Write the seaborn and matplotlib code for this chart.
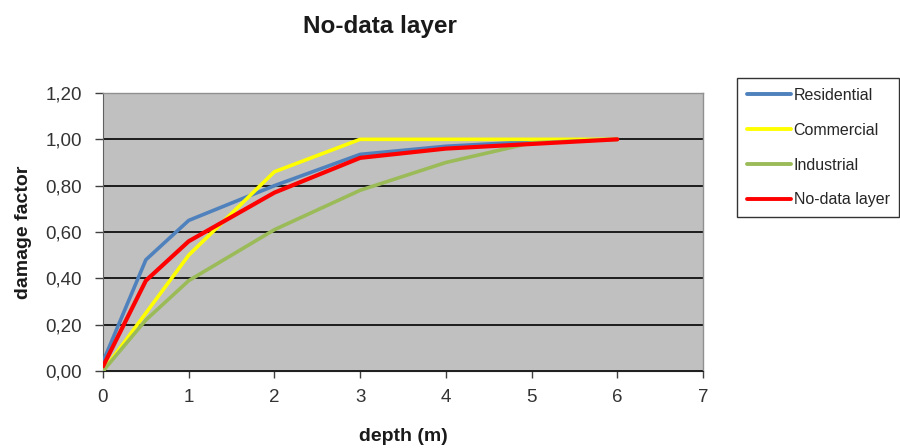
import matplotlib
matplotlib.use("Agg")
import matplotlib.pyplot as plt
import seaborn as sns
import pandas as pd
from matplotlib.ticker import FuncFormatter
from matplotlib.lines import Line2D

depth = [0, 0.5, 1, 2, 3, 4, 5, 6]
residential = [0.04, 0.48, 0.65, 0.80, 0.935, 0.97, 0.99, 1.00]
commercial = [0.00, 0.25, 0.50, 0.86, 1.00, 1.00, 1.00, 1.00]
industrial = [0.00, 0.22, 0.39, 0.61, 0.78, 0.90, 0.985, 1.00]
nodata = [0.02, 0.39, 0.56, 0.77, 0.92, 0.96, 0.98, 1.00]
series_names = ["Residential", "Commercial", "Industrial", "No-data layer"]
colors = ["#4F81BD", "#FFFF00", "#9BBB59", "#FF0000"]
y_ticks = [0, 0.2, 0.4, 0.6, 0.8, 1.0, 1.2]
x_ticks = [0, 1, 2, 3, 4, 5, 6, 7]

rows = []
for name, vals in zip(series_names, [residential, commercial, industrial, nodata]):
    for d, v in zip(depth, vals):
        rows.append({"depth": d, "value": v, "series": name})
df = pd.DataFrame(rows)

sns.set_style("white")
plt.rcParams['font.family'] = ['Liberation Sans', 'DejaVu Sans']

fig = plt.figure(figsize=(9, 4.48), dpi=100)
ax = fig.add_axes([103/900, 77/448, 600/900, 278/448])
ax.set_facecolor("#C0C0C0")

sns.lineplot(data=df, x="depth", y="value", hue="series", hue_order=series_names,
             palette=colors, linewidth=2.6, ax=ax, legend=False, zorder=3)
lines = ax.get_lines()
if len(lines) >= 4:
    lines[3].set_linewidth(3.0)
    lines[3].set_zorder(4)

ax.set_xlim(0, 7)
ax.set_ylim(0, 1.2)
ax.set_xticks(x_ticks)
ax.set_yticks(y_ticks)
ax.yaxis.set_major_formatter(FuncFormatter(lambda v, p: f"{v:.2f}".replace(".", ",")))
ax.grid(axis="y", color="black", linewidth=1.2, zorder=1)
ax.set_axisbelow(True)
ax.tick_params(axis="both", direction="out", length=5, width=1, color="#404040",
               labelsize=13.5, left=True, bottom=True, labelcolor="#333333")
ax.tick_params(axis="y", pad=9, length=6)
ax.tick_params(axis="x", pad=8)
for s in ["top", "right"]:
    ax.spines[s].set_color("#909090")
    ax.spines[s].set_linewidth(1)
ax.spines["left"].set_color("#606060")
ax.spines["bottom"].set_color("#202020")

ax.set_xlabel("depth (m)", fontsize=14, fontweight="bold", labelpad=16, color="#1a1a1a")
ax.set_ylabel("damage factor", fontsize=14, fontweight="bold", labelpad=10, color="#1a1a1a")
fig.text(380/900, 1 - 26/448, "No-data layer", ha="center", va="center",
         fontsize=17.5, fontweight="bold", color="#1a1a1a")

handles = [Line2D([0], [0], color=c, linewidth=2.8) for c in colors]
leg = fig.legend(handles, series_names, loc="upper left",
                 bbox_to_anchor=(737/900, 1 - 78/448), frameon=True,
                 fontsize=11.5, handlelength=2.8, handletextpad=0.15,
                 labelspacing=1.25, borderpad=0.6, fancybox=False, borderaxespad=0)
leg.get_frame().set_edgecolor("black")
leg.get_frame().set_linewidth(1)

fig.savefig("out.png", dpi=100)
